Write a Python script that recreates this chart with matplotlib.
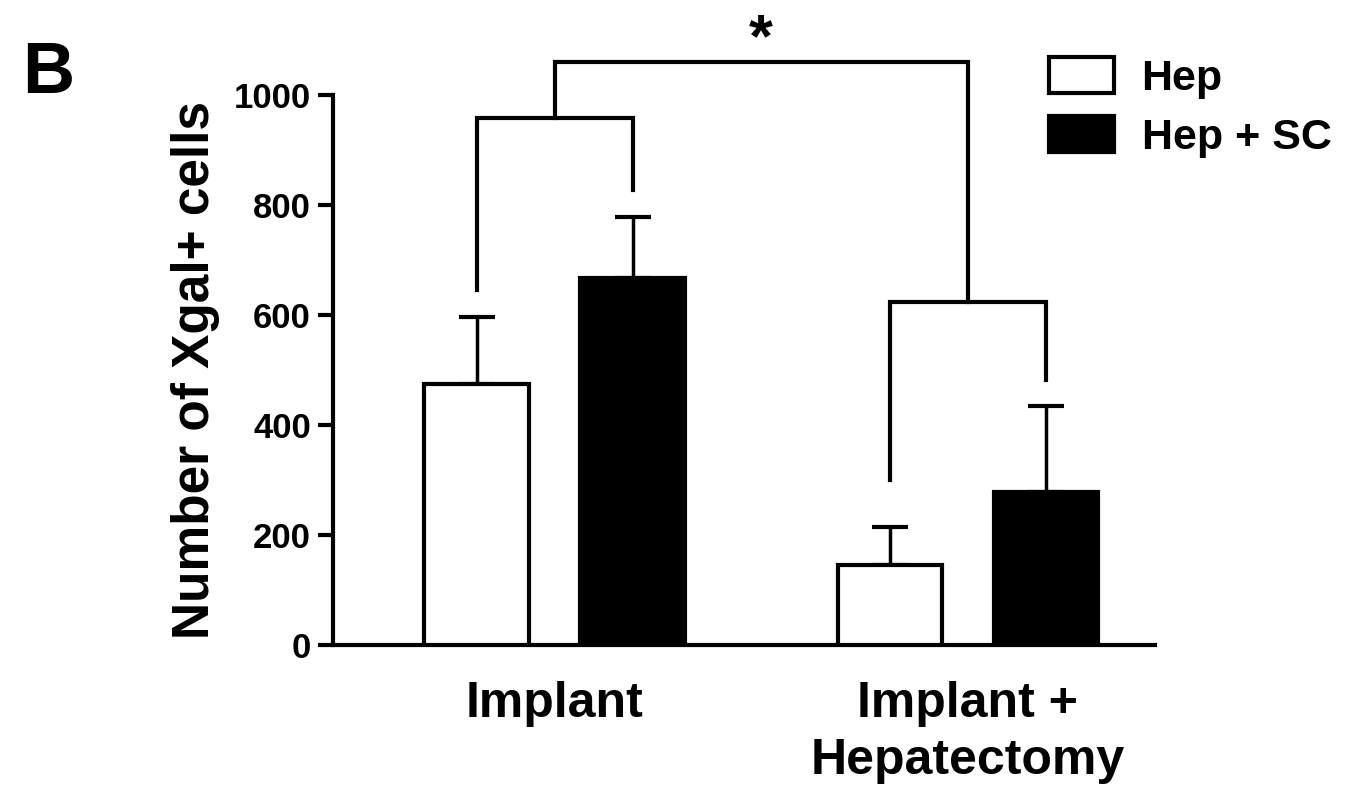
import numpy as np
import matplotlib.pyplot as plt

plt.rcParams['font.family'] = ['Liberation Sans', 'DejaVu Sans']
plt.rcParams['font.weight'] = 'bold'

groups = ['Implant', 'Implant +\nHepatectomy']
series = ['Hep', 'Hep + SC']
means = {'Hep': [475, 145], 'Hep + SC': [667, 278]}
errs = {'Hep': [122, 70], 'Hep + SC': [111, 157]}
colors = {'Hep': 'white', 'Hep + SC': 'black'}

lw = 3.0
gx = np.array([0.0, 2.65])   # group centres
offs = {'Hep': -0.5, 'Hep + SC': 0.5}
width = 0.67

fig = plt.figure(figsize=(13.54, 7.94), dpi=100)
ax = fig.add_axes([0.246, 0.1877, 0.607, 0.6927])

handles = []
for s in series:
    x = gx + offs[s]
    b = ax.bar(x, means[s], width, color=colors[s], edgecolor='black',
               linewidth=lw, zorder=3, label=s)
    handles.append(b)
    ax.errorbar(x, means[s], yerr=[np.zeros(2), errs[s]], fmt='none',
                ecolor='black', elinewidth=2.5, capsize=13, capthick=lw, zorder=2)

# significance brackets
def bracket(x1, y1, x2, y2, top):
    ax.plot([x1, x1, x2, x2], [y1, top, top, y2], color='black', lw=lw,
            solid_joinstyle='miter', clip_on=False, zorder=4)

bracket(gx[0] - 0.5, 645, gx[0] + 0.5, 827, 958)
bracket(gx[1] - 0.5, 300, gx[1] + 0.5, 482, 624)
bracket(gx[0], 958, gx[1], 624, 1060)
ax.text(gx.mean(), 1046, '*', ha='center', va='bottom', fontsize=44,
        fontweight='bold')

ax.set_xlim(-1.42, 3.85)
ax.set_ylim(0, 1000)
ax.set_yticks(np.arange(0, 1001, 200))
ax.set_xticks(gx)
ax.set_xticklabels(groups, fontsize=36, fontweight='bold', linespacing=1.3)
ax.tick_params(axis='x', length=0, pad=26)
ax.tick_params(axis='y', labelsize=25, width=lw, length=11, pad=5)
for t in ax.get_yticklabels():
    t.set_fontweight('bold')
ax.spines['top'].set_visible(False)
ax.spines['right'].set_visible(False)
ax.spines['left'].set_linewidth(lw)
ax.spines['bottom'].set_linewidth(lw)
ax.set_ylabel('Number of Xgal+ cells', fontsize=37, fontweight='bold', labelpad=10)

fig.legend(handles, series, loc='upper left', bbox_to_anchor=(0.762, 0.95),
           frameon=False, handlelength=1.5, handleheight=0.9,
           handletextpad=0.65, labelspacing=0.4, borderaxespad=0,
           prop={'weight': 'bold', 'size': 31})

fig.text(0.016, 0.907, 'B', fontsize=52, fontweight='bold', ha='left', va='center')

fig.savefig('out.png', dpi=100)
